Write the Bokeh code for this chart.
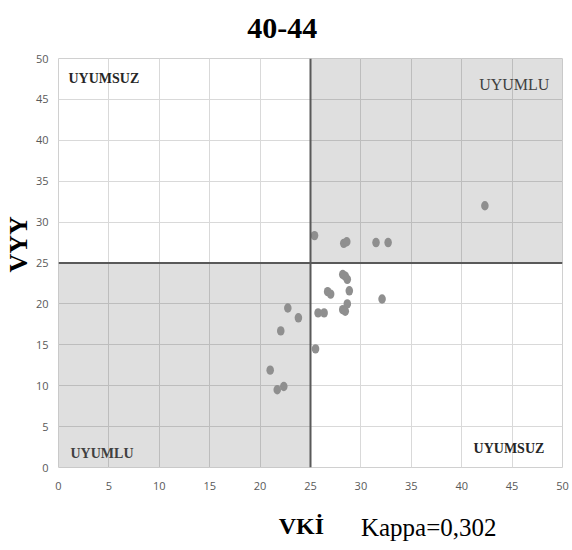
from bokeh.plotting import figure
from bokeh.models import Range1d, Label, FixedTicker, Span, Title
from bokeh.layouts import column
from bokeh.embed import file_html
from bokeh.resources import INLINE

# data
vki = [25.4, 28.3, 28.6, 31.5, 32.7, 28.2, 28.45, 28.65, 28.85, 26.7, 27.0, 32.1,
       28.65, 28.2, 28.45, 25.75, 26.35, 22.75, 23.8, 22.05, 25.5, 21.0, 21.7, 22.35, 42.3]
vyy = [28.35, 27.4, 27.6, 27.5, 27.5, 23.6, 23.4, 23.0, 21.6, 21.5, 21.2, 20.6,
       20.0, 19.3, 19.1, 18.9, 18.9, 19.5, 18.3, 16.7, 14.5, 11.9, 9.5, 9.9, 32.0]
ticks = [0, 5, 10, 15, 20, 25, 30, 35, 40, 45, 50]
cut = 25
title_text = "40-44"
x_title = "VKİ"
y_title = "VYY"
kappa_text = "Kappa=0,302"

W = 570
FW = 504
LB = 58
RB = W - FW - LB
serif = "Liberation Serif"

def strip(h):
    f = figure(width=W, height=h, output_backend="svg", toolbar_location=None,
               x_range=Range1d(0, 50), y_range=Range1d(0, h),
               x_axis_type=None, y_axis_type=None,
               min_border_left=LB, min_border_right=RB, min_border_top=0, min_border_bottom=0,
               frame_width=FW, frame_height=h)
    f.outline_line_color = None
    f.grid.visible = False
    f.background_fill_color = "white"
    f.border_fill_color = "white"
    return f

# top strip with title
top = strip(45)
top.add_layout(Label(x=22.2, y=17, text=title_text, text_font=serif, text_font_size="30px",
                     text_font_style="bold", text_align="center", text_baseline="middle",
                     text_color="#000000"))

# main plot
p = figure(width=W, height=450, output_backend="svg", toolbar_location=None,
           x_range=Range1d(0, 50), y_range=Range1d(0, 50),
           min_border_left=LB, min_border_right=RB, min_border_top=13, min_border_bottom=28,
           frame_width=FW, frame_height=409)
p.background_fill_color = "white"
p.border_fill_color = "white"
p.outline_line_color = "#d0d0d0"

for ax in (p.xaxis[0], p.yaxis[0]):
    ax.ticker = FixedTicker(ticks=ticks)
    ax.axis_line_color = None
    ax.major_tick_line_color = None
    ax.minor_tick_line_color = None
    ax.major_label_text_color = "#595959"
    ax.major_label_text_font = "Open Sans"
    ax.major_label_text_font_size = "11px"
p.xaxis.major_label_standoff = 8
p.yaxis.major_label_standoff = 4

p.xgrid.ticker = FixedTicker(ticks=ticks)
p.ygrid.ticker = FixedTicker(ticks=ticks)
p.xgrid.grid_line_color = "#d9d9d9"
p.ygrid.grid_line_color = "#d9d9d9"

p.add_layout(Title(text=y_title, text_font=serif, text_font_size="26px", text_font_style="bold",
                   text_color="#000000", align="left", offset=195, standoff=0), "left")

# shaded quadrants
p.quad(left=[0, cut], right=[cut, 50], bottom=[0, cut], top=[cut, 50],
       fill_color="#000000", fill_alpha=0.125, line_color=None)

# cut lines
p.add_layout(Span(location=cut, dimension="width", line_color="#595959", line_width=2))
p.add_layout(Span(location=cut, dimension="height", line_color="#595959", line_width=2))

# points
p.ellipse(x=vki, y=vyy, width=0.75, height=1.15, fill_color="#8f8f8f", line_color=None)

def lab(x, y, text, size, style="bold", align="left", color="#262626"):
    p.add_layout(Label(x=x, y=y, text=text, text_font=serif, text_font_size=size,
                       text_font_style=style, text_align=align, text_baseline="middle",
                       text_color=color))

lab(0.99, 47.6, "UYUMSUZ", "14px")
lab(48.7, 46.8, "UYUMLU", "16px", style="normal", align="right", color="#404040")
lab(1.19, 1.7, "UYUMLU", "14px", color="#404040")
lab(48.2, 2.3, "UYUMSUZ", "14px", align="right")

# bottom strip with axis title and kappa
bot = strip(53)
bot.add_layout(Label(x=24.1, y=53 - 30, text=x_title, text_font=serif, text_font_size="24px",
                     text_font_style="bold", text_align="center", text_baseline="middle",
                     text_color="#000000"))
bot.add_layout(Label(x=30.0, y=53 - 32, text=kappa_text, text_font=serif, text_font_size="25px",
                     text_font_style="normal", text_align="left", text_baseline="middle",
                     text_color="#000000"))

layout = column(top, p, bot, spacing=0)
open("out.html", "w").write(file_html(layout, INLINE))
